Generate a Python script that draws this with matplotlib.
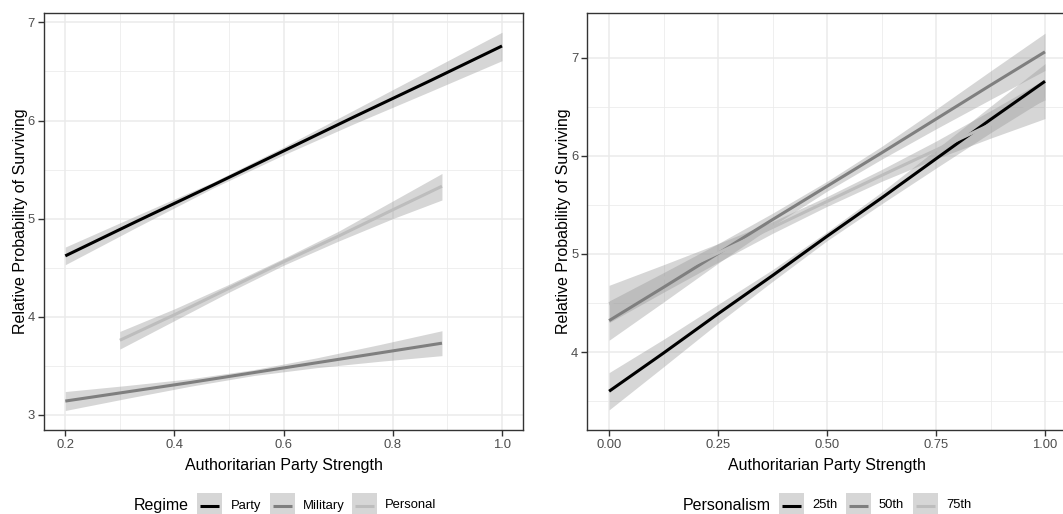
import matplotlib.pyplot as plt
from matplotlib.patches import Rectangle
from matplotlib.lines import Line2D

plt.rcParams['font.family'] = ['Liberation Sans', 'DejaVu Sans']

##########################
# left panel: regime type
x_party = [0.2, 0.33, 0.47, 0.6, 0.73, 0.87, 1.0]
party_fit = [4.62, 4.97, 5.34, 5.69, 6.04, 6.41, 6.76]
party_lo = [4.53, 4.91, 5.31, 5.65, 5.97, 6.30, 6.61]
party_hi = [4.71, 5.03, 5.37, 5.73, 6.11, 6.52, 6.90]

x_military = [0.2, 0.315, 0.43, 0.545, 0.66, 0.775, 0.89]
military_fit = [3.14, 3.235, 3.33, 3.43, 3.53, 3.63, 3.73]
military_lo = [3.044, 3.17, 3.292, 3.40, 3.48, 3.545, 3.603]
military_hi = [3.237, 3.30, 3.368, 3.46, 3.58, 3.715, 3.857]

x_personal = [0.3, 0.4, 0.5, 0.6, 0.7, 0.8, 0.89]
personal_fit = [3.76, 4.02, 4.29, 4.56, 4.82, 5.09, 5.33]
personal_lo = [3.67, 3.96, 4.25, 4.525, 4.77, 5.00, 5.19]
personal_hi = [3.85, 4.08, 4.33, 4.595, 4.87, 5.18, 5.46]

# right panel: personalism percentile
x_pers = [0.0, 0.125, 0.25, 0.375, 0.5, 0.625, 0.75, 0.875, 1.0]
p25_fit = [3.60, 3.99, 4.39, 4.78, 5.18, 5.57, 5.97, 6.37, 6.76]
p25_lo = [3.41, 3.85, 4.295, 4.72, 5.135, 5.51, 5.875, 6.235, 6.58]
p25_hi = [3.79, 4.13, 4.485, 4.84, 5.225, 5.63, 6.065, 6.505, 6.94]
p50_fit = [4.32, 4.66, 5.005, 5.35, 5.69, 6.03, 6.375, 6.72, 7.06]
p50_lo = [4.12, 4.51, 4.905, 5.285, 5.64, 5.965, 6.275, 6.575, 6.87]
p50_hi = [4.52, 4.81, 5.105, 5.415, 5.74, 6.095, 6.475, 6.865, 7.25]
p75_fit = [4.49, 4.75, 5.01, 5.27, 5.535, 5.80, 6.06, 6.32, 6.58]
p75_lo = [4.30, 4.61, 4.915, 5.21, 5.485, 5.74, 5.97, 6.18, 6.38]
p75_hi = [4.68, 4.89, 5.105, 5.33, 5.585, 5.86, 6.15, 6.46, 6.78]

regime_labels = ['Party', 'Military', 'Personal']
pers_labels = ['25th', '50th', '75th']
line_cols = ['black', '#7f7f7f', '#bdbdbd']
#######################

fig = plt.figure(figsize=(10.63, 5.14), dpi=100)
W, H = 1063.0, 514.0

def style_axes(ax, xt, xtl, xmin, yt, ymin):
    ax.set_xticks(xt)
    ax.set_xticklabels(xtl)
    ax.set_xticks(xmin, minor=True)
    ax.set_yticks(yt)
    ax.set_yticks(ymin, minor=True)
    ax.grid(which='major', color='#ebebeb', lw=1.1)
    ax.grid(which='minor', color='#ebebeb', lw=0.55)
    ax.set_axisbelow(True)
    ax.tick_params(which='major', length=4, width=1.0, color='#333333',
                   labelcolor='#4d4d4d', labelsize=9.4, pad=2.5)
    ax.tick_params(which='minor', length=0)
    for s in ax.spines.values():
        s.set_color('#333333')
        s.set_linewidth(1.0)
    ax.set_xlabel('Authoritarian Party Strength', fontsize=11.5)
    ax.set_ylabel('Relative Probability of Surviving', fontsize=11.5)
    ax.xaxis.set_label_coords(0.5, -0.066)
    ax.yaxis.set_label_coords(-0.034, 0.5)

#################### left
ax1 = fig.add_axes([44/W, 84/H, 479.3/W, 416.7/H])
groups = [(x_party, party_fit, party_lo, party_hi),
          (x_military, military_fit, military_lo, military_hi),
          (x_personal, personal_fit, personal_lo, personal_hi)]
for (x, f, lo, hi), c in zip(groups, line_cols):
    ax1.fill_between(x, lo, hi, color='#999999', alpha=0.4, lw=0)
    ax1.plot(x, f, color=c, lw=2.2, solid_capstyle='butt')
ax1.set_xlim(0.161, 1.039)
ax1.set_ylim(2.845, 7.093)
style_axes(ax1, [0.2, 0.4, 0.6, 0.8, 1.0], ['0.2', '0.4', '0.6', '0.8', '1.0'],
           [0.3, 0.5, 0.7, 0.9], [3, 4, 5, 6, 7], [3.5, 4.5, 5.5, 6.5])

#################### right
ax2 = fig.add_axes([587.3/W, 84/H, 479.5/W, 416.7/H])
groups = [(x_pers, p25_fit, p25_lo, p25_hi),
          (x_pers, p50_fit, p50_lo, p50_hi),
          (x_pers, p75_fit, p75_lo, p75_hi)]
for (x, f, lo, hi), c in zip(groups, line_cols):
    ax2.fill_between(x, lo, hi, color='#999999', alpha=0.4, lw=0)
    ax2.plot(x, f, color=c, lw=2.2, solid_capstyle='butt')
ax2.set_xlim(-0.05, 1.05)
ax2.set_ylim(3.205, 7.453)
style_axes(ax2, [0, 0.25, 0.5, 0.75, 1.0], ['0.00', '0.25', '0.50', '0.75', '1.00'],
           [0.125, 0.375, 0.625, 0.875], [4, 5, 6, 7], [3.5, 4.5, 5.5, 6.5])

#################### legends (drawn by hand, ggplot style at bottom)
def draw_legend(title, title_x, labels, key_x, label_x):
    yc = 505.5
    fig.text(title_x/W, 1 - yc/H, title, fontsize=11.5, va='center', ha='left')
    for lab, kx, lx, c in zip(labels, key_x, label_x, line_cols):
        fig.patches.append(Rectangle((kx/W, 1 - 518/H), 25/W, 25/H,
                                     transform=fig.transFigure,
                                     facecolor='#999999', alpha=0.4, lw=0))
        fig.lines.append(Line2D([(kx + 3)/W, (kx + 22)/W], [1 - yc/H, 1 - yc/H],
                                transform=fig.transFigure, color=c, lw=2.2,
                                solid_capstyle='butt'))
        fig.text(lx/W, 1 - yc/H, lab, fontsize=9.4, va='center', ha='left')

draw_legend('Regime', 134, regime_labels, [197, 270, 352], [231, 303, 385])
draw_legend('Personalism', 683, pers_labels, [779, 846, 913], [812, 879, 946])

plt.savefig('out.png', dpi=100)
